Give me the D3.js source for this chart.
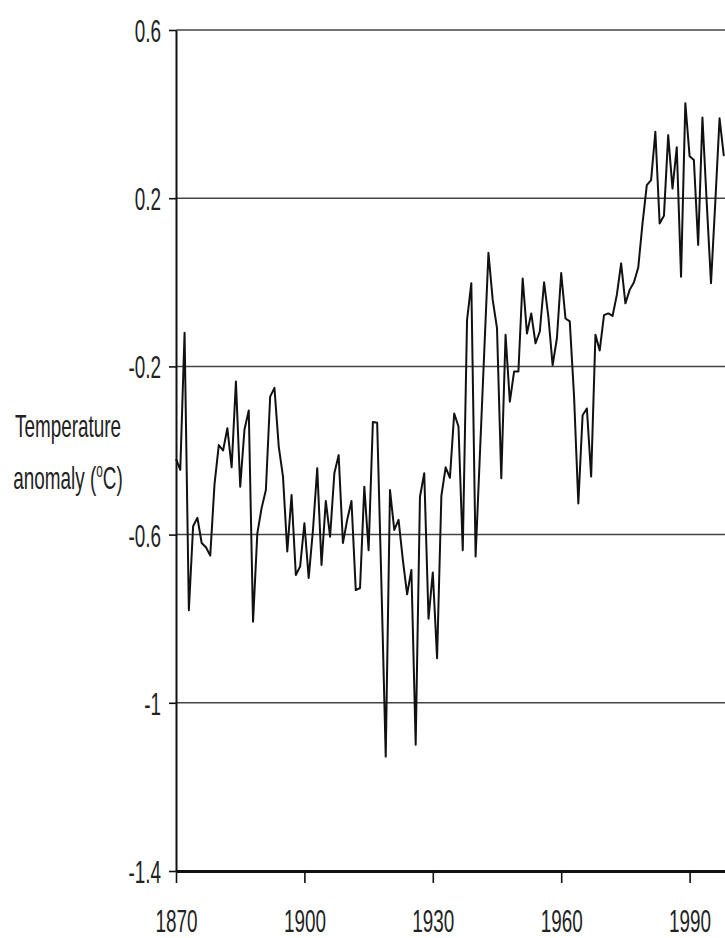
<!DOCTYPE html>
<html>
<head>
<meta charset="utf-8">
<script src="https://cdn.jsdelivr.net/npm/d3@7"></script>
<style>
  body { margin: 0; background: #fff; }
  svg { display: block; }
  text { font-family: "Liberation Sans", Arial, sans-serif; fill: #222; }
</style>
</head>
<body>
<div id="chart"></div>
<script>
// anomaly series, one value per year starting 1870
const startYear = 1870;
const anomalies = [
  -0.42, -0.446, -0.12, -0.78, -0.58, -0.56, -0.62, -0.63, -0.65, -0.48,
  -0.387, -0.40, -0.347, -0.44, -0.236, -0.486, -0.35, -0.305, -0.807, -0.597,
  -0.537, -0.494, -0.272, -0.251, -0.39, -0.462, -0.64, -0.506, -0.696, -0.676,
  -0.573, -0.703, -0.589, -0.442, -0.672, -0.52, -0.605, -0.454, -0.411, -0.62,
  -0.565, -0.52, -0.732, -0.727, -0.486, -0.637, -0.332, -0.334, -0.72, -1.128,
  -0.494, -0.589, -0.565, -0.66, -0.742, -0.684, -1.10, -0.51, -0.454, -0.80,
  -0.69, -0.894, -0.508, -0.44, -0.465, -0.312, -0.343, -0.637, -0.09, -0.002,
  -0.652, -0.41, -0.17, 0.07, -0.042, -0.109, -0.466, -0.125, -0.284, -0.212,
  -0.212, 0.009, -0.122, -0.074, -0.145, -0.117, 0.0, -0.082, -0.197, -0.133,
  0.022, -0.086, -0.093, -0.27, -0.526, -0.316, -0.30, -0.462, -0.125, -0.162,
  -0.078, -0.074, -0.08, -0.03, 0.045, -0.05, -0.018, 0.0, 0.035, 0.14,
  0.231, 0.243, 0.358, 0.14, 0.158, 0.35, 0.223, 0.321, 0.013, 0.426,
  0.30, 0.291, 0.089, 0.392, 0.19, -0.002, 0.19, 0.39, 0.30
];
const yTicks = [0.6, 0.2, -0.2, -0.6, -1, -1.4];
const xTicks = [1870, 1900, 1930, 1960, 1990];

const data = anomalies.map((v, i) => ({year: startYear + i, value: v}));

const width = 725, height = 938;
const sx = 0.59; // labels in the figure are squeezed horizontally

const svg = d3.select('#chart').append('svg')
    .attr('width', width)
    .attr('height', height);

const x = d3.scaleLinear().domain([1870, 2000]).range([176, 732.4]);
const y = d3.scaleLinear().domain([-1.4, 0.6]).range([871, 30]);

// horizontal grid lines
svg.append('g')
    .selectAll('line')
    .data(yTicks)
    .join('line')
    .attr('x1', x(1870))
    .attr('x2', x(2000))
    .attr('y1', d => y(d))
    .attr('y2', d => y(d))
    .attr('stroke', '#444')
    .attr('stroke-width', 1.5);

// y axis
const yAxis = svg.append('g')
    .attr('transform', `translate(${x(1870)},0)`)
    .call(d3.axisLeft(y).tickValues(yTicks).tickSize(7).tickSizeOuter(0)
        .tickFormat(d => String(d)));
yAxis.select('.domain').attr('stroke', '#111').attr('stroke-width', 2);
yAxis.selectAll('.tick line').attr('stroke', '#111').attr('stroke-width', 1.6);
yAxis.selectAll('.tick text')
    .attr('font-size', 32)
    .attr('x', -15 / sx)
    .attr('dy', '0.36em')
    .attr('transform', `scale(${sx},1)`)
    .attr('fill', '#222');

// x axis
const xAxis = svg.append('g')
    .attr('transform', `translate(0,${y(-1.4)})`)
    .call(d3.axisBottom(x).tickValues(xTicks).tickSize(12).tickSizeOuter(0)
        .tickFormat(d3.format('d')));
xAxis.select('.domain').attr('stroke', '#111').attr('stroke-width', 3);
xAxis.selectAll('.tick line').attr('stroke', '#111').attr('stroke-width', 1.6);
xAxis.selectAll('.tick text')
    .attr('font-size', 32)
    .attr('y', 61)
    .attr('dy', 0)
    .attr('transform', `scale(${sx},1)`)
    .attr('x', 0)
    .attr('fill', '#222');

// the series
const line = d3.line()
    .x(d => x(d.year))
    .y(d => y(d.value));

svg.append('path')
    .datum(data)
    .attr('fill', 'none')
    .attr('stroke', '#111')
    .attr('stroke-width', 2)
    .attr('stroke-linejoin', 'round')
    .attr('d', line);

// y axis title
const title = svg.append('g')
    .attr('transform', `translate(68,0) scale(${sx},1)`);
title.append('text')
    .attr('y', 437)
    .attr('text-anchor', 'middle')
    .attr('font-size', 32)
    .text('Temperature');
const t2 = title.append('text')
    .attr('y', 489)
    .attr('text-anchor', 'middle')
    .attr('font-size', 32);
t2.append('tspan').text('anomaly (');
t2.append('tspan').attr('font-size', 20).attr('dy', -12).text('o');
t2.append('tspan').attr('dy', 12).text('C)');
</script>
</body>
</html>
